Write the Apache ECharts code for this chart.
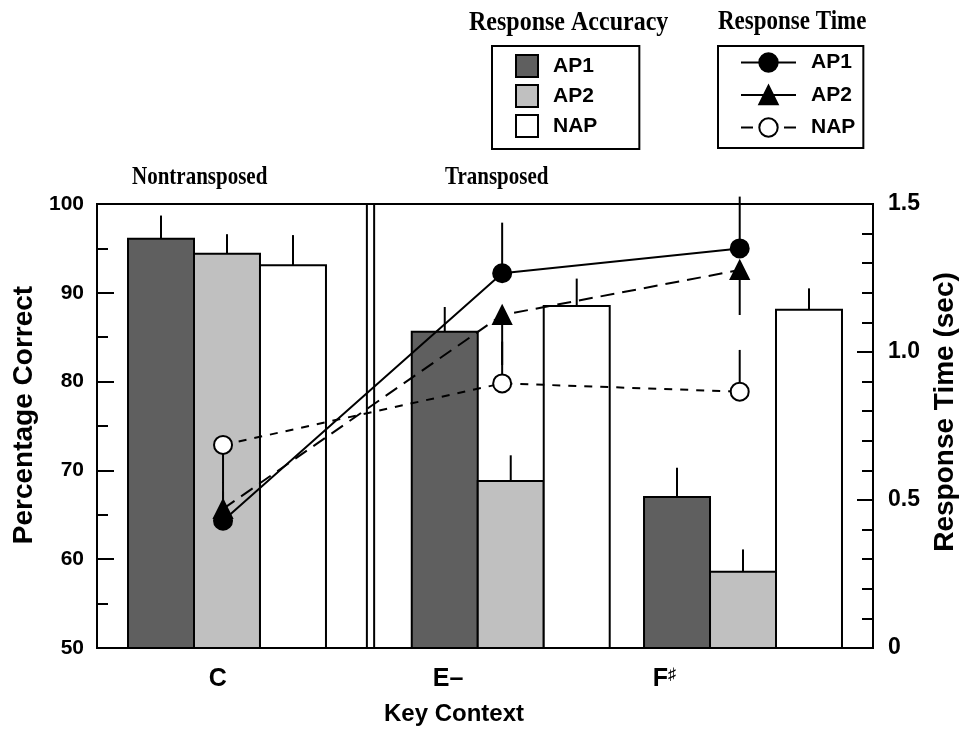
<!DOCTYPE html>
<html>
<head>
<meta charset="utf-8">
<script src="https://cdn.jsdelivr.net/npm/echarts@6/dist/echarts.min.js"></script>
<style>
html,body{margin:0;padding:0;background:#fff;}
#chart{width:967px;height:740px;}
</style>
</head>
<body>
<div id="chart"></div>
<script>
// ---- data ----
const keyContexts = ['C', 'E–', 'F♯'];
const groupNames = ['Nontransposed', 'Transposed'];
const seriesNames = ['AP1', 'AP2', 'NAP'];

// Response accuracy (% correct) and top of error bar
const accAP1 = [96.1, 85.6, 67.0];
const accAP2 = [94.4, 68.8, 58.6];
const accNAP = [93.1, 88.5, 88.1];
const accAP1ErrEnd = [98.7, 88.4, 70.3];
const accAP2ErrEnd = [96.6, 71.7, 61.1];
const accNAPErrEnd = [96.5, 91.6, 90.5];

// Response time (sec) and end of error bar
const rtAP1 = [0.43, 1.266, 1.35];
const rtAP2 = [0.47, 1.125, 1.277];
const rtNAP = [0.686, 0.894, 0.866];
const rtAP1ErrEnd = [0.56, 1.437, 1.525];
const rtAP2ErrEnd = [0.53, 0.956, 1.125];
const rtNAPErrEnd = [0.557, 1.035, 1.007];

// axes
const accMin = 50, accMax = 100, accStep = 10;
const rtMin = 0, rtMax = 1.5, rtStep = 0.5;

// horizontal layout along key-context axis (in bar-width units)
const xMax = 11.76;
const keyPos = [1.97, 6.27, 9.79];
const rtPos = [1.91, 6.14, 9.74];
const labelPos = [1.83, 5.32, 8.6];
const dividerPos = [4.09, 4.2];
const barOffsets = [-1, 0, 1];

// ---- chart ----
const SANS = '"Liberation Sans", Arial, Helvetica, sans-serif';
const SERIF = '"Liberation Serif", "Times New Roman", serif';
const fills = ['#5f5f5f', '#c0c0c0', '#ffffff'];
const accVals = [accAP1, accAP2, accNAP];
const accErr = [accAP1ErrEnd, accAP2ErrEnd, accNAPErrEnd];
const rtVals = [rtAP1, rtAP2, rtNAP];
const rtErr = [rtAP1ErrEnd, rtAP2ErrEnd, rtNAPErrEnd];

function barRender(offset, fill) {
  return function (params, api) {
    const cx = api.value(0) + offset;
    const v = api.value(1), e = api.value(2);
    const p0 = api.coord([cx - 0.5, v]);
    const p1 = api.coord([cx + 0.5, accMin]);
    const pv = api.coord([cx, v]);
    const pe = api.coord([cx, e]);
    return {
      type: 'group',
      children: [
        { type: 'line', shape: { x1: pv[0], y1: pv[1], x2: pe[0], y2: pe[1] }, style: { stroke: '#000', lineWidth: 2 } },
        { type: 'rect', shape: { x: p0[0], y: p0[1], width: p1[0] - p0[0], height: p1[1] - p0[1] }, style: { fill: fill, stroke: '#000', lineWidth: 2 } }
      ]
    };
  };
}

function errRender(params, api) {
  const a = api.coord([api.value(0), api.value(1)]);
  const b = api.coord([api.value(0), api.value(2)]);
  return { type: 'line', shape: { x1: a[0], y1: a[1], x2: b[0], y2: b[1] }, style: { stroke: '#000', lineWidth: 2 } };
}

const series = [];
seriesNames.forEach((n, s) => {
  series.push({
    name: 'Accuracy|' + n,
    type: 'custom',
    xAxisIndex: 0, yAxisIndex: 0,
    itemStyle: { color: fills[s], borderColor: '#000', borderWidth: 2 },
    renderItem: barRender(barOffsets[s], fills[s]),
    encode: { x: 0, y: 1 },
    data: keyPos.map((x, i) => [x, accVals[s][i], accErr[s][i]]),
    clip: false,
    z: 2
  });
});
// divider (double vertical line)
series.push({
  type: 'custom',
  silent: true,
  renderItem: function (params, api) {
    const a = api.coord([api.value(0), accMin]);
    const b = api.coord([api.value(0), accMax]);
    return { type: 'line', shape: { x1: a[0], y1: a[1], x2: b[0], y2: b[1] }, style: { stroke: '#000', lineWidth: 2 } };
  },
  encode: { x: 0 },
  data: dividerPos.map(d => [d]),
  z: 3
});
// RT error bars
seriesNames.forEach((n, s) => {
  series.push({
    type: 'custom',
    silent: true,
    yAxisIndex: 1,
    renderItem: errRender,
    encode: { x: 0, y: 1 },
    data: rtPos.map((x, i) => [x, rtVals[s][i], rtErr[s][i]]),
    clip: false,
    z: 4
  });
});
const rtSymbols = ['circle', 'triangle', 'circle'];
const rtDash = ['solid', [14, 8], [8, 8]];
const rtFill = ['#000', '#000', '#fff'];
seriesNames.forEach((n, s) => {
  series.push({
    name: 'Time|' + n,
    type: 'line',
    yAxisIndex: 1,
    data: rtPos.map((x, i) => [x, rtVals[s][i]]),
    symbol: rtSymbols[s],
    symbolSize: 18,
    showAllSymbol: true,
    itemStyle: { color: rtFill[s], borderColor: '#000', borderWidth: 2 },
    lineStyle: { color: '#000', width: 2, type: rtDash[s] },
    clip: false,
    z: 5
  });
});

const legendText = {
  fontFamily: SANS, fontWeight: 'bold', fontSize: 21, color: '#000',
  rich: { g: { width: 10 } }
};

function stretchedText(x, y, text, size) {
  return {
    type: 'text', x: x, y: y, scaleY: 1.15,
    style: { text: text, x: 0, y: 0, font: 'bold ' + size + 'px ' + SERIF, fill: '#000', align: 'left', verticalAlign: 'top' }
  };
}

const option = {
  animation: false,
  backgroundColor: '#fff',
  grid: { left: 97, right: 94, top: 204, bottom: 92, show: true, borderColor: '#000', borderWidth: 2 },
  graphic: [
    stretchedText(469, 9, 'Response Accuracy', 24),
    stretchedText(718, 9, 'Response Time', 23),
    stretchedText(132, 166, groupNames[0], 21),
    stretchedText(445, 166, groupNames[1], 21)
  ],
  legend: [
    {
      orient: 'vertical', left: 492, top: 46,
      icon: 'rect', itemWidth: 22, itemHeight: 22, itemGap: 6,
      borderColor: '#000', borderWidth: 2, padding: [8, 42, 11, 23],
      selectedMode: false,
      formatter: name => '{g|}' + name.split('|')[1],
      textStyle: legendText,
      data: seriesNames.map((n, s) => ({ name: 'Accuracy|' + n, itemStyle: { color: fills[s], borderColor: '#000', borderWidth: 2 } }))
    },
    {
      orient: 'vertical', left: 718, top: 46,
      itemWidth: 55, itemHeight: 23, itemGap: 11.5,
      borderColor: '#000', borderWidth: 2, padding: [6, 8, 10, 22],
      selectedMode: false,
      formatter: name => '{g|}' + name.split('|')[1],
      textStyle: legendText,
      data: [
        { name: 'Time|AP1', lineStyle: { type: 'solid', width: 2, color: '#000' } },
        { name: 'Time|AP2', lineStyle: { type: 'solid', width: 2, color: '#000' } },
        { name: 'Time|NAP', lineStyle: { type: [12, 31], width: 2, color: '#000' } }
      ]
    }
  ],
  xAxis: {
    type: 'value', min: 0, max: xMax,
    name: 'Key Context', nameLocation: 'middle', nameGap: 54,
    nameTextStyle: { fontFamily: SANS, fontWeight: 'bold', fontSize: 24, color: '#000', padding: [0, 62, 0, 0] },
    axisLine: { show: true, lineStyle: { color: '#000', width: 2 } },
    axisTick: { show: false },
    splitLine: { show: false },
    axisLabel: {
      customValues: labelPos,
      margin: 19,
      formatter: function (v) {
        const i = labelPos.findIndex(p => Math.abs(p - v) < 1e-6);
        if (i < 0) return '';
        const k = keyContexts[i];
        if (k.endsWith('♯')) return '{b|' + k.slice(0, -1) + '}{s|♯}';
        return '{b|' + k + '}';
      },
      rich: {
        b: { fontFamily: SANS, fontWeight: 'bold', fontSize: 25, color: '#000' },
        s: { fontFamily: SANS, fontWeight: 'bold', fontSize: 16, color: '#000', verticalAlign: 'top' }
      }
    }
  },
  yAxis: [
    {
      type: 'value', min: accMin, max: accMax, interval: accStep,
      name: 'Percentage Correct', nameLocation: 'middle', nameGap: 53,
      nameTextStyle: { fontFamily: SANS, fontWeight: 'bold', fontSize: 28, color: '#000', padding: [0, 0, 0, 22] },
      axisLine: { show: true, lineStyle: { color: '#000', width: 2 } },
      axisTick: { show: true, inside: true, length: 17, lineStyle: { color: '#000', width: 2 } },
      minorTick: { show: true, splitNumber: 2, length: 11, lineStyle: { color: '#000', width: 2 } },
      splitLine: { show: false },
      axisLabel: { fontFamily: SANS, fontWeight: 'bold', fontSize: 21, color: '#000', margin: 13 }
    },
    {
      type: 'value', min: rtMin, max: rtMax, interval: rtStep,
      position: 'right',
      name: 'Response Time (sec)', nameLocation: 'middle', nameGap: 57,
      nameTextStyle: { fontFamily: SANS, fontWeight: 'bold', fontSize: 28, color: '#000', padding: [0, 0, 0, 28] },
      axisLine: { show: true, lineStyle: { color: '#000', width: 2 } },
      axisTick: { show: true, inside: true, length: 16, lineStyle: { color: '#000', width: 2 } },
      minorTick: { show: true, splitNumber: 5, length: 11, lineStyle: { color: '#000', width: 2 } },
      splitLine: { show: false },
      axisLabel: {
        fontFamily: SANS, fontWeight: 'bold', fontSize: 23, color: '#000', margin: 15,
        formatter: v => (v === 0 ? '0' : v.toFixed(1))
      }
    }
  ],
  series: series
};

const chart = echarts.init(document.getElementById('chart'), null, { renderer: 'canvas' });
chart.setOption(option);
</script>
</body>
</html>
